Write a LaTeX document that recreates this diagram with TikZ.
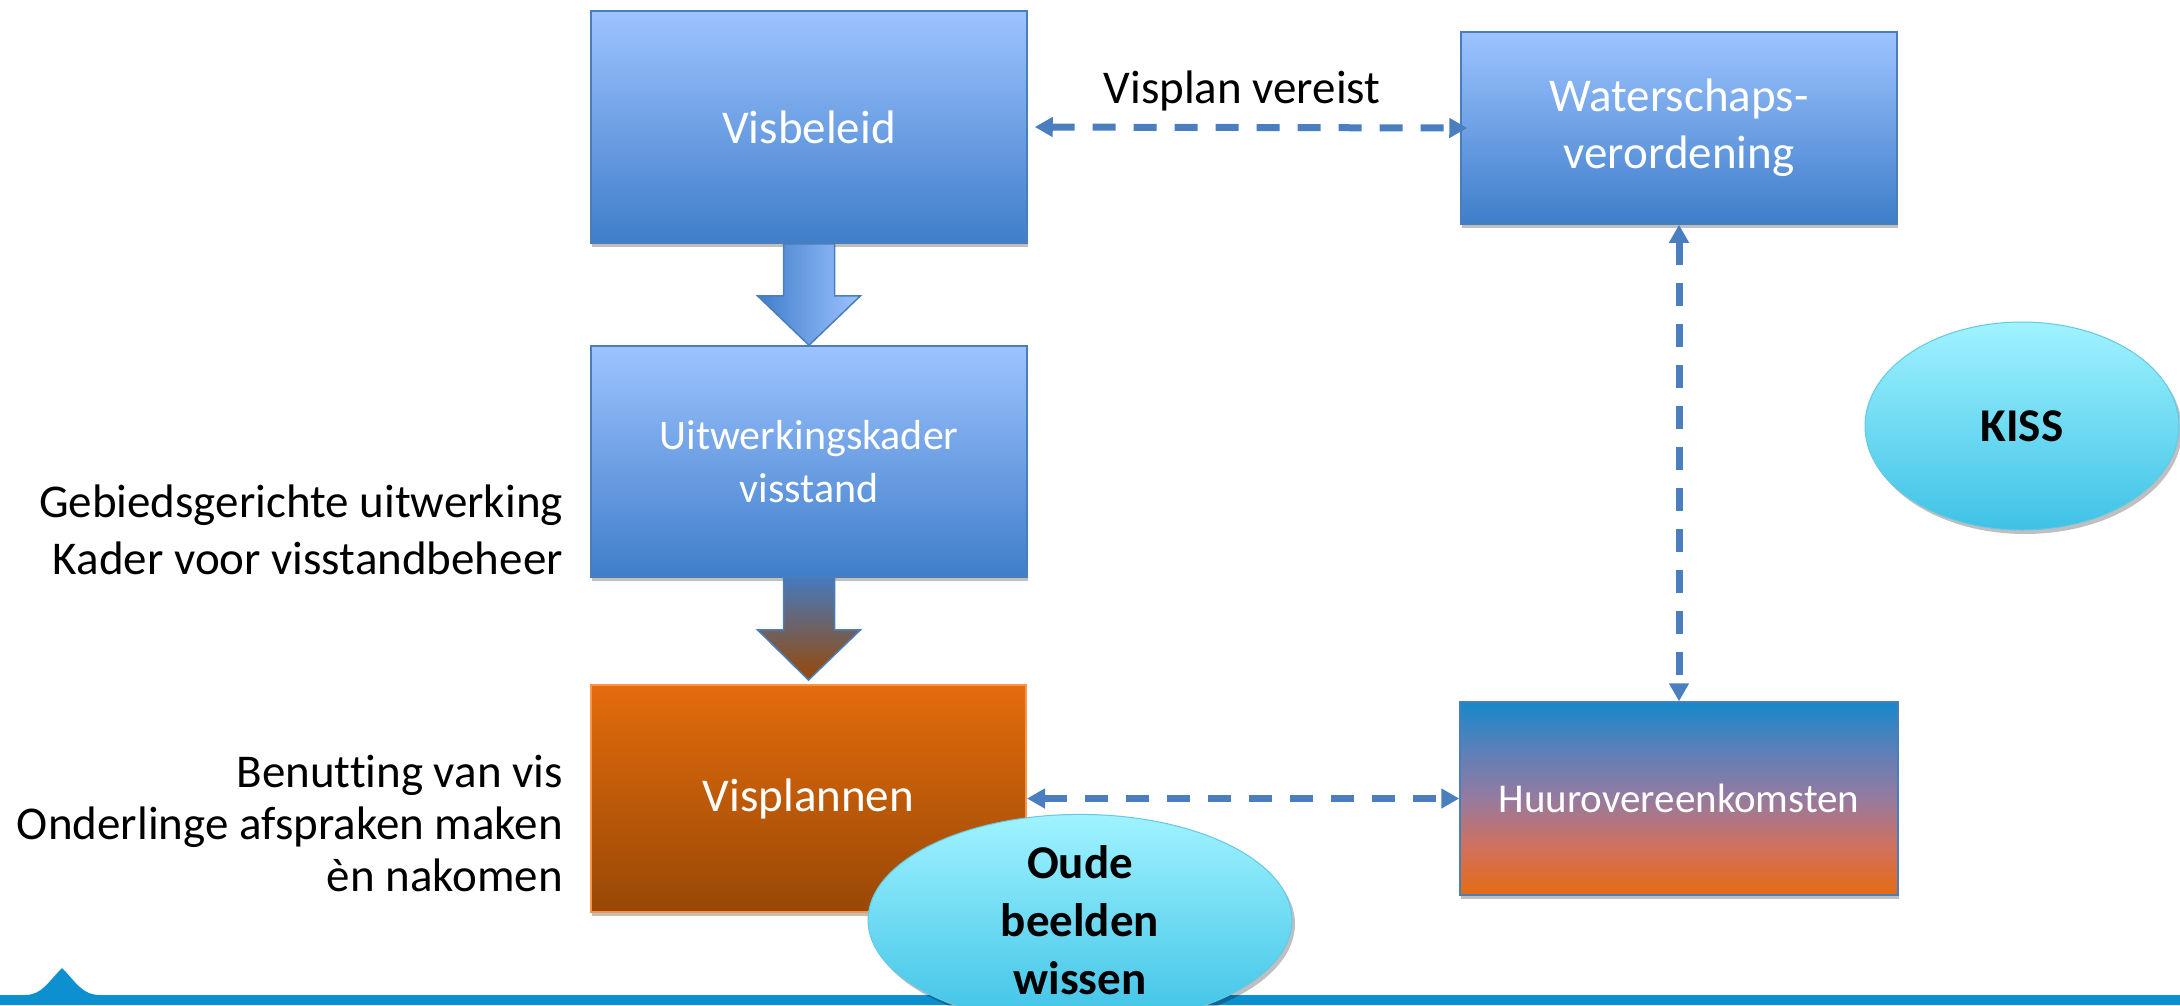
\documentclass[tikz,border=0pt]{standalone}
\usepackage{fontspec}
\setmainfont{Carlito}[Ligatures=NoCommon]
\usetikzlibrary{arrows.meta,calc,shapes.geometric,shadows}

\definecolor{bxtop}{RGB}{157,195,255}
\definecolor{bxbot}{RGB}{63,126,202}
\definecolor{bxline}{RGB}{74,126,187}
\definecolor{ortop}{RGB}{228,108,12}
\definecolor{orbot}{RGB}{152,72,6}
\definecolor{orline}{RGB}{247,150,70}
\definecolor{dashc}{RGB}{74,126,190}
\definecolor{cytop}{RGB}{160,243,255}
\definecolor{cybot}{RGB}{62,194,230}
\definecolor{cyline}{RGB}{100,200,226}
\definecolor{barc}{RGB}{12,144,208}
\definecolor{atwotop}{RGB}{70,122,190}

\pgfdeclareverticalshading{huurshade}{100bp}{%
  color(0bp)=(rgb,255:red,228;green,108;blue,18);
  color(25bp)=(rgb,255:red,228;green,108;blue,18);
  color(37bp)=(rgb,255:red,210;green,112;blue,90);
  color(50bp)=(rgb,255:red,150;green,122;blue,158);
  color(62bp)=(rgb,255:red,95;green,128;blue,185);
  color(75bp)=(rgb,255:red,22;green,136;blue,202);
  color(100bp)=(rgb,255:red,22;green,136;blue,202)}

\begin{document}
\begin{tikzpicture}[x=1pt,y=-1pt,
  boxshadow/.style={drop shadow={shadow xshift=1pt,shadow yshift=-4pt,opacity=0.25,fill=black}},
  bigfont/.style={font=\fontsize{47pt}{57pt}\selectfont},
  basebox/.style={rectangle,inner sep=0pt,align=center,text=white,boxshadow},
  bluebox/.style={basebox,draw=bxline,line width=1.5pt,top color=bxtop,bottom color=bxbot},
  orangebox/.style={basebox,draw=orline,line width=2pt,top color=ortop,bottom color=orbot},
  mixbox/.style={basebox,draw=bxline,line width=1.5pt,shading=huurshade},
  bubble/.style={ellipse,inner sep=0pt,draw=cyline,line width=1pt,top color=cytop,bottom color=cybot,
     text=black,align=center,font=\fontsize{47pt}{58pt}\selectfont\bfseries,
     drop shadow={shadow xshift=3pt,shadow yshift=-4pt,opacity=0.25,fill=black}},
  sidetext/.style={align=right,inner sep=0pt,text=black},
  dashedarrow/.style={draw=dashc,line width=7pt,dash pattern=on 23pt off 18pt,
     {Triangle[length=18pt,width=19pt]}-{Triangle[length=18pt,width=19pt]}},
  arrowone/.style={draw=bxline,line width=1.5pt,left color=bxbot,right color=bxtop},
  arrowtwo/.style={draw=bxline,line width=1.5pt,top color=atwotop,middle color=orbot!92!atwotop,bottom color=orbot}
]
\useasboundingbox (0,0) rectangle (2180,1005);

% boxes
\node[bluebox,bigfont,minimum width=436pt,minimum height=232pt] (visbeleid) at (809,127) {Visbeleid};
\node[bluebox,font=\fontsize{42pt}{53pt}\selectfont,minimum width=436pt,minimum height=231pt] (uitwerk) at (809,461.5) {Uitwerkingskader\\visstand};
\node[orangebox,bigfont,minimum width=435pt,minimum height=227pt] (visplannen) at (808.5,798.5) {Visplannen};
\node[bluebox,bigfont,minimum width=436pt,minimum height=192pt] (water) at (1679,128) {Waterschaps-\\verordening};
\node[mixbox,font=\fontsize{41pt}{50pt}\selectfont,minimum width=438pt,minimum height=193pt] (huur) at (1679,798.5) {Huurovereenkomsten};

% side texts
\node[sidetext,bigfont,anchor=east] (gebied) at (563,530) {Gebiedsgerichte uitwerking\\Kader voor visstandbeheer};
\node[sidetext,font=\fontsize{47pt}{52pt}\selectfont,anchor=east] (benut) at (563,823) {Benutting van vis\\Onderlinge afspraken maken\\èn nakomen};

% label
\node[bigfont,anchor=base,inner sep=0pt] (vereist) at (1242,103) {Visplan vereist};

% block arrows
\coordinate (aone) at (visbeleid.south);
\draw[arrowone] ($(aone)+(-25.5,0)$) -- ($(aone)+(-25.5,52)$) -- ($(aone)+(-51.5,52)$) -- (uitwerk.north)
   -- ($(aone)+(51.5,52)$) -- ($(aone)+(25.5,52)$) -- ($(aone)+(25.5,0)$) -- cycle;
\coordinate (atwo) at (uitwerk.south);
\coordinate (atwotip) at ($(visplannen.north)+(0,-4)$);
\draw[arrowtwo] ($(atwo)+(-25.5,0)$) -- ($(atwo)+(-25.5,52)$) -- ($(atwo)+(-51.5,52)$) -- (atwotip)
   -- ($(atwo)+(51.5,52)$) -- ($(atwo)+(25.5,52)$) -- ($(atwo)+(25.5,0)$) -- cycle;

% dashed connectors
\draw[dashedarrow,shorten <=7pt,shorten >=-7pt] (visbeleid.east) -- (water.west);
\draw[dashedarrow] (water.south) -- (huur.north);
\draw[dashedarrow] (visplannen.east) -- (huur.west);

% bottom bar
\fill[barc] (0,995) -- (25,995) .. controls (42,995) and (48,982) .. (62,968)
   .. controls (76,982) and (82,995) .. (100,995) -- (2180,995) -- (2180,1005) -- (0,1005) -- cycle;

% bubbles
\node[bubble,minimum width=314pt,minimum height=208pt] (kiss) at (2022,426) {KISS};
\node[bubble,minimum width=424pt,minimum height=176pt] (oude) at (1080,920) {Oude\\beelden\\wissen};
\end{tikzpicture}
\end{document}
